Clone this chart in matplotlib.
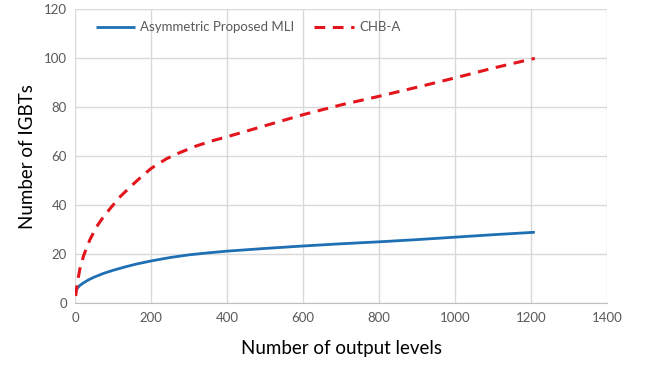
import matplotlib
matplotlib.use("Agg")
import matplotlib.pyplot as plt

# Data
prop_levels = [1, 6, 12, 21, 35, 50, 74, 100, 130, 160, 200, 250, 300, 350, 400, 500, 600, 700, 800, 900, 1000, 1100, 1210]
prop_igbts = [5, 6.3, 7.3, 8.3, 9.6, 10.7, 12.2, 13.5, 14.8, 16.0, 17.3, 18.7, 19.8, 20.6, 21.3, 22.4, 23.4, 24.3, 25.1, 26.0, 27.0, 28.0, 29.0]

chb_levels = [1, 5, 12, 22, 38, 55, 74, 95, 118, 150, 175, 200, 240, 275, 320, 360, 400, 500, 600, 700, 800, 900, 1000, 1100, 1210]
chb_igbts = [3, 8, 14, 19.5, 25.8, 31.0, 35.3, 39.3, 43.5, 48.3, 51.8, 55.1, 59.0, 61.5, 64.3, 66.3, 68.0, 72.5, 77.0, 81.0, 84.5, 88.2, 92.0, 96.0, 100]

x_ticks = [0, 200, 400, 600, 800, 1000, 1200, 1400]
y_ticks = [0, 20, 40, 60, 80, 100, 120]

plt.rcParams['font.family'] = ['Lato', 'DejaVu Sans']

fig = plt.figure(figsize=(6.48, 3.65), dpi=100)
ax = fig.add_axes([0.1162, 0.169, 0.8205, 0.8055])

ax.plot(prop_levels, prop_igbts, color='#1f6fb4', lw=2.0, label='Asymmetric Proposed MLI', solid_capstyle='butt')
ax.plot(chb_levels, chb_igbts, color='#e3141b', lw=2.2, ls=(0, (3.5, 2.5)), label='CHB-A')

ax.set_xlim(0, 1400)
ax.set_ylim(0, 120)
ax.set_xticks(x_ticks)
ax.set_yticks(y_ticks)
ax.grid(True, color='#d9d9d9', lw=1.0)
ax.set_axisbelow(True)
for s in ['top', 'right', 'left']:
    ax.spines[s].set_visible(False)
ax.spines['bottom'].set_color('#bfbfbf')
ax.tick_params(length=0, labelsize=9.5, colors='#595959', pad=6)

ax.set_xlabel('Number of output levels', fontsize=13.5, color='black', labelpad=12)
ax.set_ylabel('Number of IGBTs', fontsize=13.5, color='black', labelpad=6)

leg = ax.legend(loc='upper center', bbox_to_anchor=(0.325, 1.0), ncol=2, frameon=False,
                fontsize=9.5, handlelength=3.0, columnspacing=1.5, handletextpad=0.4)
for t in leg.get_texts():
    t.set_color('#595959')

fig.savefig('out.png', dpi=100)
